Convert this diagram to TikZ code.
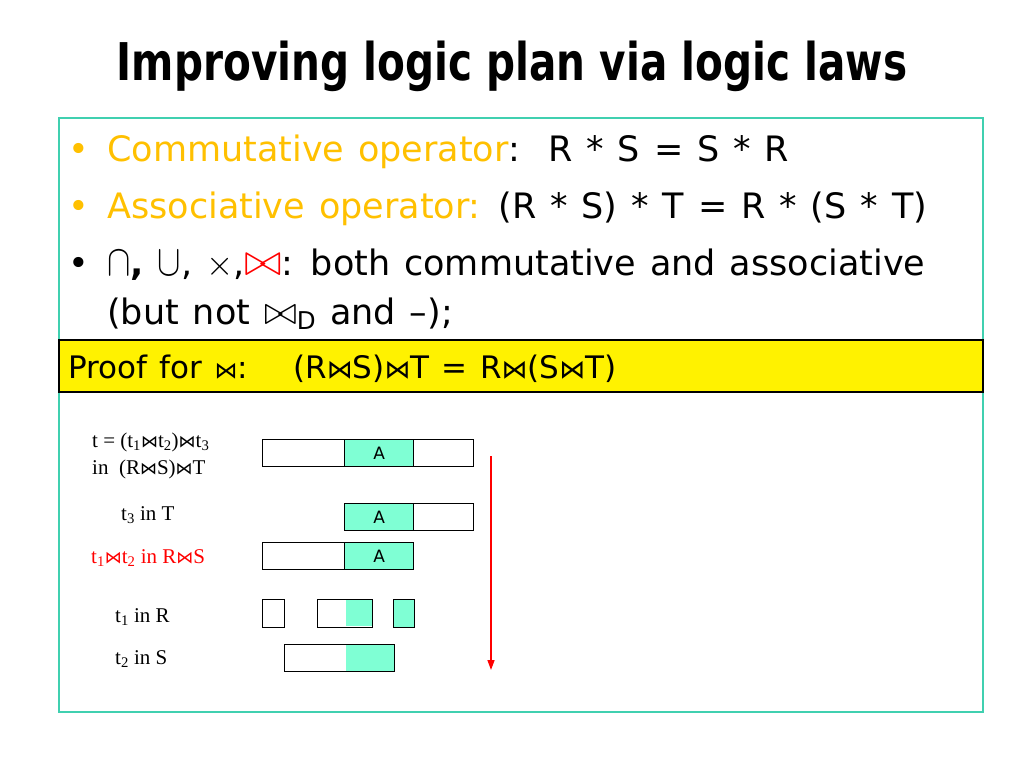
\RequirePackage{fix-cm}
\documentclass[tikz,border=0pt]{standalone}
\usepackage{fontspec}
\setmainfont{DejaVu Sans}[WordSpace=1.25]
\newfontfamily\titlefont{DejaVu Sans}
\newfontfamily\timesfont{Liberation Serif}
\newfontfamily\symfont{DejaVu Sans}
\usetikzlibrary{arrows.meta}
\definecolor{gold}{RGB}{255,192,0}
\definecolor{aqua}{RGB}{127,255,212}
\definecolor{framecol}{RGB}{64,208,176}
\newcommand{\fsize}[1]{\fontsize{#1}{#1}\selectfont}
\newcommand{\jn}[1]{{\symfont\fsize{#1}⋈}}
\newcommand{\bow}[1]{\scalebox{#1}{$\bowtie$}}
\tikzset{
  bodytext/.style={anchor=base west, inner sep=0, font=\fsize{35}},
  prooftext/.style={anchor=base west, inner sep=0, font=\fsize{31}},
  tupletext/.style={anchor=base west, inner sep=0, font=\timesfont\fsize{21}},
  field/.style={draw=black, line width=1.2pt, inner sep=0, anchor=north west, minimum height=27},
  attr/.style={field, fill=aqua, font=\fsize{17}},
  keypart/.style={fill=aqua, inner sep=0, anchor=north west},
  proofbar/.style={fill=yellow, draw=black, line width=1.5pt},
  flow/.style={-{Triangle[length=10pt,width=7pt]}, red, line width=1.5pt}
}
\begin{document}
\begin{tikzpicture}[x=1pt,y=-1pt]
    \useasboundingbox (0,0) rectangle (1024,768);
    \node[font=\titlefont\bfseries\fsize{52}, anchor=base] (title) at (512,80) {\scalebox{0.78}[1]{Improving logic plan via logic laws}};
    \draw[framecol, line width=1.2pt] (59,118) rectangle (983,712);

    \node[bodytext, text=gold] (dot1) at (68,161) {•};
    \node[bodytext] (comm) at (107,161) {\textcolor{gold}{Commutative operator}:\ \ R * S = S * R};
    \node[bodytext, text=gold] (dot2) at (68,218) {•};
    \node[bodytext] (assoc) at (107,218) {\textcolor{gold}{Associative operator:} (R * S) * T = R * (S * T)};
    \node[bodytext] (dot3) at (68,275) {•};
    \node[bodytext] (ops) at (107,275) {\scalebox{1}[1.25]{$\cap$}\textbf{,} \scalebox{1}[1.25]{$\cup$}, $\times$,\textcolor{red}{\bow{1.3}}: both commutative and associative};
    \node[bodytext] (except) at (107,324) {(but not \bow{1.15}\textsubscript{D} and –);};

    \draw[proofbar] (59,340) rectangle (983,392);
    \node[prooftext] (proof) at (68,378) {Proof for \jn{23}:};
    \node[prooftext] (proofeq) at (293,378) {(R\jn{26}S)\jn{26}T = R\jn{26}(S\jn{26}T)};

    \node[tupletext] (tjoin) at (92,447) {t = (t\textsubscript{1}\jn{17}t\textsubscript{2})\jn{17}t\textsubscript{3}};
    \node[tupletext] (tin) at (92,474) {in\ \ (R\jn{17}S)\jn{17}T};
    \node[tupletext] (t3) at (121,520) {t\textsubscript{3} in T};
    \node[tupletext, text=red] (t12) at (91,563) {t\textsubscript{1}\jn{17}t\textsubscript{2} in R\jn{17}S};
    \node[tupletext] (t1) at (115,622) {t\textsubscript{1} in R};
    \node[tupletext] (t2) at (115,664) {t\textsubscript{2} in S};

    \node[field, minimum width=211] (rst) at (262,439) {};
    \node[attr, minimum width=69] (rstA) at (344,439) {A};
    \node[field, minimum width=129] (tt) at (344,503) {};
    \node[attr, minimum width=69] (ttA) at (344,503) {A};
    \node[field, minimum width=151] (rs) at (262,542) {};
    \node[attr, minimum width=69] (rsA) at (344,542) {A};

    \node[field, minimum width=22, minimum height=28] (r1) at (262,599) {};
    \node[keypart, minimum width=26, minimum height=27] (r2key) at (346,599) {};
    \node[field, minimum width=55, minimum height=28] (r2) at (317,599) {};
    \node[field, fill=aqua, minimum width=21, minimum height=28] (r3) at (393,599) {};
    \node[keypart, minimum width=48, minimum height=27] (skey) at (346,644) {};
    \node[field, minimum width=110] (s) at (284,644) {};

    \coordinate (from) at (491,456);
    \coordinate (to) at (491,670);
    \draw[flow] (from) -- (to);
\end{tikzpicture}
\end{document}
